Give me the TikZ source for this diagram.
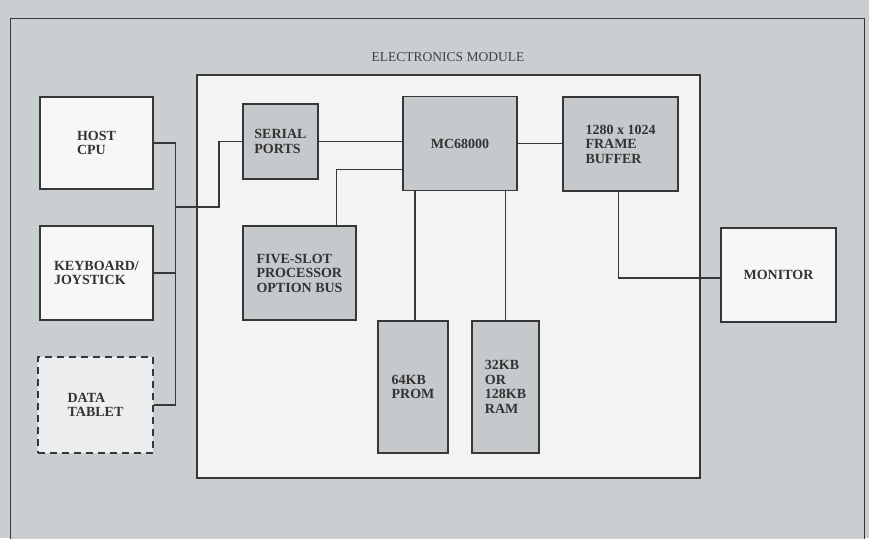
\documentclass[tikz,border=0pt]{standalone}
\usepackage{fontspec}
\setmainfont{Liberation Serif}
\usepackage{tikz}

\definecolor{panelgrey}{RGB}{201,207,209}
\definecolor{boxgrey}{RGB}{197,201,203}
\definecolor{modwhite}{RGB}{243,243,241}
\definecolor{linegrey}{RGB}{55,55,55}

\tikzset{
	unit/.style={draw=linegrey, line width=1.3pt, inner sep=0pt, align=left,
		font=\fontsize{14}{14.5}\selectfont\bfseries, text=black!80},
	inunit/.style={unit, fill=boxgrey},
	outunit/.style={unit, fill=white!97!black},
	wire/.style={draw=linegrey, line width=1.3pt}
}

\begin{document}
\begin{tikzpicture}[x=1pt, y=-1pt]
					\useasboundingbox (0,0) rectangle (869,538);
					
					\fill[panelgrey] (0,0) rectangle (869,538);
					\draw[linegrey, line width=1pt, fill=panelgrey] (10,18) rectangle (864,545);
					\draw[linegrey, line width=1.4pt, fill=modwhite] (197,75) rectangle (700,478);
					\node[font=\fontsize{13.5}{14}\selectfont, text=black!75] (modlabel) at (448,57) {ELECTRONICS MODULE};
					
					\node[outunit, minimum width=113pt, minimum height=92pt] (cpu) at (96.5,143) {HOST\\CPU};
					\node[outunit, minimum width=113pt, minimum height=94pt] (keys) at (96.5,273) {KEYBOARD/\\JOYSTICK};
					\node[outunit, fill=panelgrey!35!white, dashed, dash pattern=on 7pt off 5pt, minimum width=115pt, minimum height=96pt] (tablet) at (95.5,405) {DATA\\TABLET};
					
					\node[inunit, minimum width=75pt, minimum height=75pt] (serial) at (280.5,141.5) {SERIAL\\PORTS};
					\node[inunit, minimum width=114pt, minimum height=94pt] (mc) at (460,143.5) {MC68000};
					\node[inunit, minimum width=115pt, minimum height=94pt] (fb) at (620.5,144) {1280 x 1024\\FRAME\\BUFFER};
					\node[inunit, minimum width=113pt, minimum height=94pt] (opt) at (299.5,273) {FIVE-SLOT\\PROCESSOR\\OPTION BUS};
					\node[inunit, minimum width=70pt, minimum height=132pt] (prom) at (413,387) {64KB\\PROM};
					\node[inunit, minimum width=67pt, minimum height=132pt] (ram) at (505.5,387) {32KB\\OR\\128KB\\RAM};
					\node[outunit, minimum width=115pt, minimum height=94pt] (monitor) at (778.5,275) {MONITOR};
					
					\coordinate (bus) at (175,207);
					\draw[wire] (cpu.east) -- ++(22,0) |- (tablet.east);
					\draw[wire] (keys.east) -- (keys.east -| bus);
					\draw[wire] (bus) -- ++(44,0) |- (serial.west);
					\draw[wire] (serial.east) -- (serial.east -| mc.west);
					\draw[wire] ([xshift=37pt]opt.north) |- ([yshift=-26pt]mc.west);
					\draw[wire] ([xshift=2pt]prom.north) -- ([xshift=2pt]prom.north |- mc.south);
					\draw[wire] (ram.north) -- (ram.north |- mc.south);
					\draw[wire] (mc.east) -- (mc.east -| fb.west);
					\draw[wire] ([xshift=-2pt]fb.south) |- ([yshift=-3pt]monitor.west);
				\end{tikzpicture}
\end{document}
